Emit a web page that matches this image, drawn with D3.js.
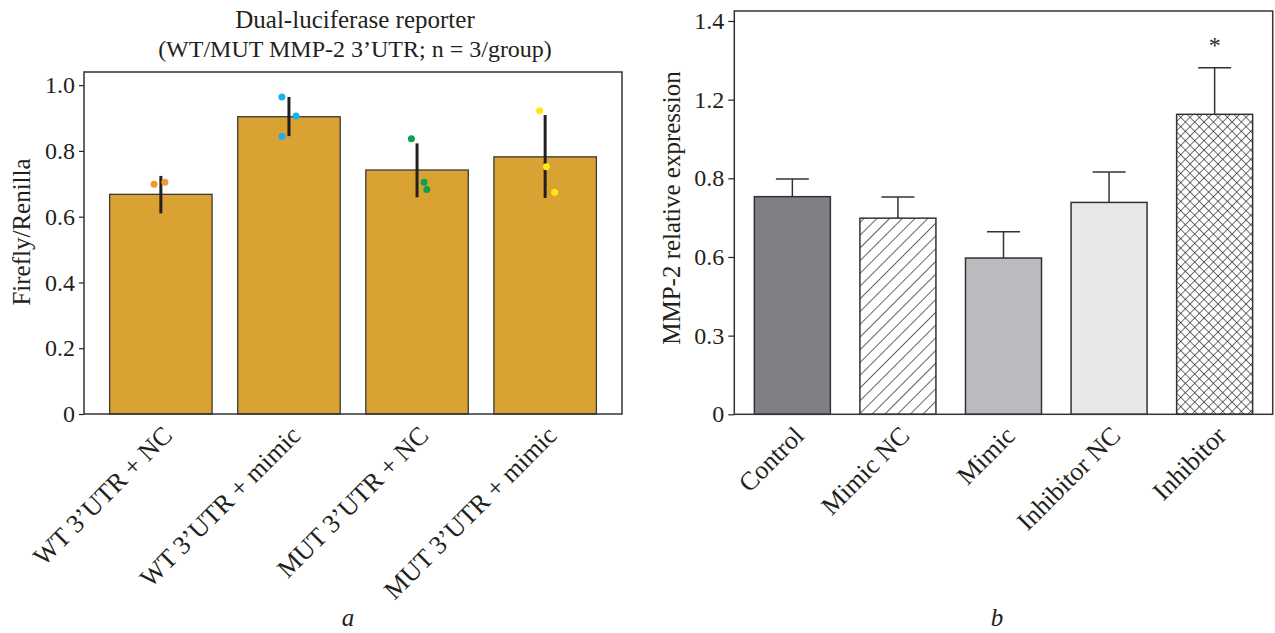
<!DOCTYPE html>
<html>
<head>
<meta charset="utf-8">
<script src="https://cdn.jsdelivr.net/npm/d3@7"></script>
<style>
  body { margin: 0; background: #fff; }
  svg text { font-family: "Liberation Serif", "Times New Roman", serif; fill: #231f20; }
</style>
</head>
<body>
<svg id="chart" width="1275" height="633"></svg>
<script>
// panel a - dual-luciferase reporter
const reporterGroups = ["WT 3’UTR + NC", "WT 3’UTR + mimic", "MUT 3’UTR + NC", "MUT 3’UTR + mimic"];
const reporterMean = [0.668, 0.904, 0.742, 0.782];
const reporterLow = [0.610, 0.845, 0.659, 0.657];
const reporterHigh = [0.724, 0.964, 0.823, 0.909];
const reporterReps = [[0.699, 0.705], [0.964, 0.906, 0.844], [0.837, 0.705, 0.683], [0.922, 0.752, 0.674]];
const repJitter = [[-0.066, 0.039], [-0.069, 0.069, -0.069], [-0.055, 0.069, 0.095], [-0.054, 0.012, 0.093]];
const reporterTicks = [0, 0.2, 0.4, 0.6, 0.8, 1.0];
const reporterTickLabels = ["0", "0.2", "0.4", "0.6", "0.8", "1.0"];

// panel b - MMP-2 expression
const exprGroups = ["Control", "Mimic NC", "Mimic", "Inhibitor NC", "Inhibitor"];
const exprMean = [0.830, 0.748, 0.596, 0.808, 1.144];
const exprErr = [0.067, 0.081, 0.100, 0.116, 0.178];
const exprSignif = ["", "", "", "", "*"];
const exprTicks = [0, 0.3, 0.6, 0.9, 1.2, 1.5];
const exprTickLabels = ["0", "0.3", "0.6", "0.8", "1.2", "1.4"];

const ink = "#231f20";
const barGold = "#daa232";
const dotColors = ["#f39a2c", "#1bb0eb", "#0aa14f", "#ffe614"];

const svg = d3.select("#chart");
const defs = svg.append("defs");

// hatch patterns for panel b
defs.append("pattern")
    .attr("id", "hatch")
    .attr("patternUnits", "userSpaceOnUse")
    .attr("width", 9).attr("height", 9)
    .attr("patternTransform", "rotate(45)")
  .append("line")
    .attr("x1", 0).attr("y1", 0).attr("x2", 0).attr("y2", 9)
    .attr("stroke", "#222").attr("stroke-width", 1.4);

const cross = defs.append("pattern")
    .attr("id", "cross")
    .attr("patternUnits", "userSpaceOnUse")
    .attr("width", 6.6).attr("height", 6.6)
    .attr("patternTransform", "rotate(45)");
cross.append("line").attr("x1", 0).attr("y1", 0).attr("x2", 0).attr("y2", 6.6)
    .attr("stroke", "#222").attr("stroke-width", 1.3);
cross.append("line").attr("x1", 0).attr("y1", 0).attr("x2", 6.6).attr("y2", 0)
    .attr("stroke", "#222").attr("stroke-width", 1.3);

const exprFills = ["#7f8084", "url(#hatch)", "#bbbcc0", "#e6e7e9", "url(#cross)"];

// ---------- panel a ----------
const xa = d3.scaleBand().domain(reporterGroups).range([84, 622]).padding(0.2);
const ya = d3.scaleLinear().domain([0, 1.04]).range([414, 72]);

const ga = svg.append("g");

ga.append("g")
    .attr("transform", "translate(84,0)")
    .call(d3.axisLeft(ya).tickValues(reporterTicks).tickSize(5).tickPadding(4)
        .tickFormat((d, i) => reporterTickLabels[i]))
    .call(g => g.select(".domain").remove())
    .call(g => g.selectAll("line").attr("stroke", ink).attr("stroke-width", 1.2))
    .call(g => g.selectAll("text").attr("font-size", 24).attr("fill", ink)
        .style("font-family", "'Liberation Serif', serif"));

ga.selectAll("rect.bar")
    .data(reporterGroups)
    .enter().append("rect")
    .attr("class", "bar")
    .attr("x", d => xa(d))
    .attr("width", xa.bandwidth())
    .attr("y", (d, i) => ya(reporterMean[i]))
    .attr("height", (d, i) => ya(0) - ya(reporterMean[i]))
    .attr("fill", barGold)
    .attr("stroke", "#3a3a3a")
    .attr("stroke-width", 1.3);

ga.selectAll("line.err")
    .data(reporterGroups)
    .enter().append("line")
    .attr("class", "err")
    .attr("x1", d => xa(d) + xa.bandwidth() / 2)
    .attr("x2", d => xa(d) + xa.bandwidth() / 2)
    .attr("y1", (d, i) => ya(reporterLow[i]))
    .attr("y2", (d, i) => ya(reporterHigh[i]))
    .attr("stroke", ink)
    .attr("stroke-width", 3);

reporterGroups.forEach((grp, i) => {
    ga.selectAll(null)
        .data(reporterReps[i])
        .enter().append("circle")
        .attr("cx", (v, j) => xa(grp) + xa.bandwidth() * (0.5 + repJitter[i][j]))
        .attr("cy", v => ya(v))
        .attr("r", 3.5)
        .attr("fill", dotColors[i]);
});

ga.append("rect")
    .attr("x", 84).attr("y", 72).attr("width", 538).attr("height", 342)
    .attr("fill", "none").attr("stroke", "#333").attr("stroke-width", 1.5);

ga.selectAll("text.cat")
    .data(reporterGroups)
    .enter().append("text")
    .attr("class", "cat")
    .attr("text-anchor", "end")
    .attr("font-size", 26)
    .attr("transform", d => `translate(${xa(d) + xa.bandwidth() / 2 + 13},${ya(0) + 23}) rotate(-45)`)
    .text(d => d);

ga.append("text")
    .attr("text-anchor", "middle")
    .attr("font-size", 25)
    .attr("transform", "translate(30,232) rotate(-90)")
    .text("Firefly/Renilla");

ga.append("text")
    .attr("x", 355).attr("y", 28)
    .attr("text-anchor", "middle")
    .attr("font-size", 25)
    .text("Dual-luciferase reporter");
ga.append("text")
    .attr("x", 355).attr("y", 57)
    .attr("text-anchor", "middle")
    .attr("font-size", 24)
    .text("(WT/MUT MMP-2 3’UTR; n = 3/group)");

ga.append("text")
    .attr("x", 348).attr("y", 626)
    .attr("text-anchor", "middle")
    .attr("font-size", 25)
    .attr("font-style", "italic")
    .text("a");

// ---------- panel b ----------
const xb = d3.scaleBand().domain(exprGroups).range([734.3, 1272.7])
    .paddingInner(0.28).paddingOuter(0.19);
const yb = d3.scaleLinear().domain([0, 1.538]).range([414.3, 11]);

const gb = svg.append("g");

gb.append("g")
    .attr("transform", "translate(734.3,0)")
    .call(d3.axisLeft(yb).tickValues(exprTicks).tickSize(6).tickPadding(4)
        .tickFormat((d, i) => exprTickLabels[i]))
    .call(g => g.select(".domain").remove())
    .call(g => g.selectAll("line").attr("stroke", ink).attr("stroke-width", 1.2))
    .call(g => g.selectAll("text").attr("font-size", 24).attr("fill", ink)
        .style("font-family", "'Liberation Serif', serif"));

gb.selectAll("rect.bar")
    .data(exprGroups)
    .enter().append("rect")
    .attr("class", "bar")
    .attr("x", d => xb(d))
    .attr("width", xb.bandwidth())
    .attr("y", (d, i) => yb(exprMean[i]))
    .attr("height", (d, i) => yb(0) - yb(exprMean[i]))
    .attr("fill", (d, i) => exprFills[i])
    .attr("stroke", "#333")
    .attr("stroke-width", 1.5);

const capHalf = 16.5;
const errG = gb.selectAll("g.err")
    .data(exprGroups)
    .enter().append("g")
    .attr("class", "err");
errG.append("line")
    .attr("x1", d => xb(d) + xb.bandwidth() / 2)
    .attr("x2", d => xb(d) + xb.bandwidth() / 2)
    .attr("y1", (d, i) => yb(exprMean[i]))
    .attr("y2", (d, i) => yb(exprMean[i] + exprErr[i]))
    .attr("stroke", "#333").attr("stroke-width", 1.5);
errG.append("line")
    .attr("x1", d => xb(d) + xb.bandwidth() / 2 - capHalf)
    .attr("x2", d => xb(d) + xb.bandwidth() / 2 + capHalf)
    .attr("y1", (d, i) => yb(exprMean[i] + exprErr[i]))
    .attr("y2", (d, i) => yb(exprMean[i] + exprErr[i]))
    .attr("stroke", "#333").attr("stroke-width", 1.5);

gb.selectAll("text.sig")
    .data(exprGroups)
    .enter().append("text")
    .attr("class", "sig")
    .attr("text-anchor", "middle")
    .attr("font-size", 24)
    .attr("x", d => xb(d) + xb.bandwidth() / 2)
    .attr("y", (d, i) => yb(exprMean[i] + exprErr[i]) - 15)
    .text((d, i) => exprSignif[i]);

gb.append("rect")
    .attr("x", 734.3).attr("y", 11).attr("width", 538.4).attr("height", 403.3)
    .attr("fill", "none").attr("stroke", "#333").attr("stroke-width", 1.5);

gb.selectAll("text.cat")
    .data(exprGroups)
    .enter().append("text")
    .attr("class", "cat")
    .attr("text-anchor", "end")
    .attr("font-size", 26)
    .attr("transform", d => `translate(${xb(d) + xb.bandwidth() / 2 + 13},${yb(0) + 23}) rotate(-45)`)
    .text(d => d);

gb.append("text")
    .attr("text-anchor", "middle")
    .attr("font-size", 25)
    .attr("transform", "translate(680,208) rotate(-90)")
    .text("MMP-2 relative expression");

gb.append("text")
    .attr("x", 997).attr("y", 626)
    .attr("text-anchor", "middle")
    .attr("font-size", 25)
    .attr("font-style", "italic")
    .text("b");
</script>
</body>
</html>
